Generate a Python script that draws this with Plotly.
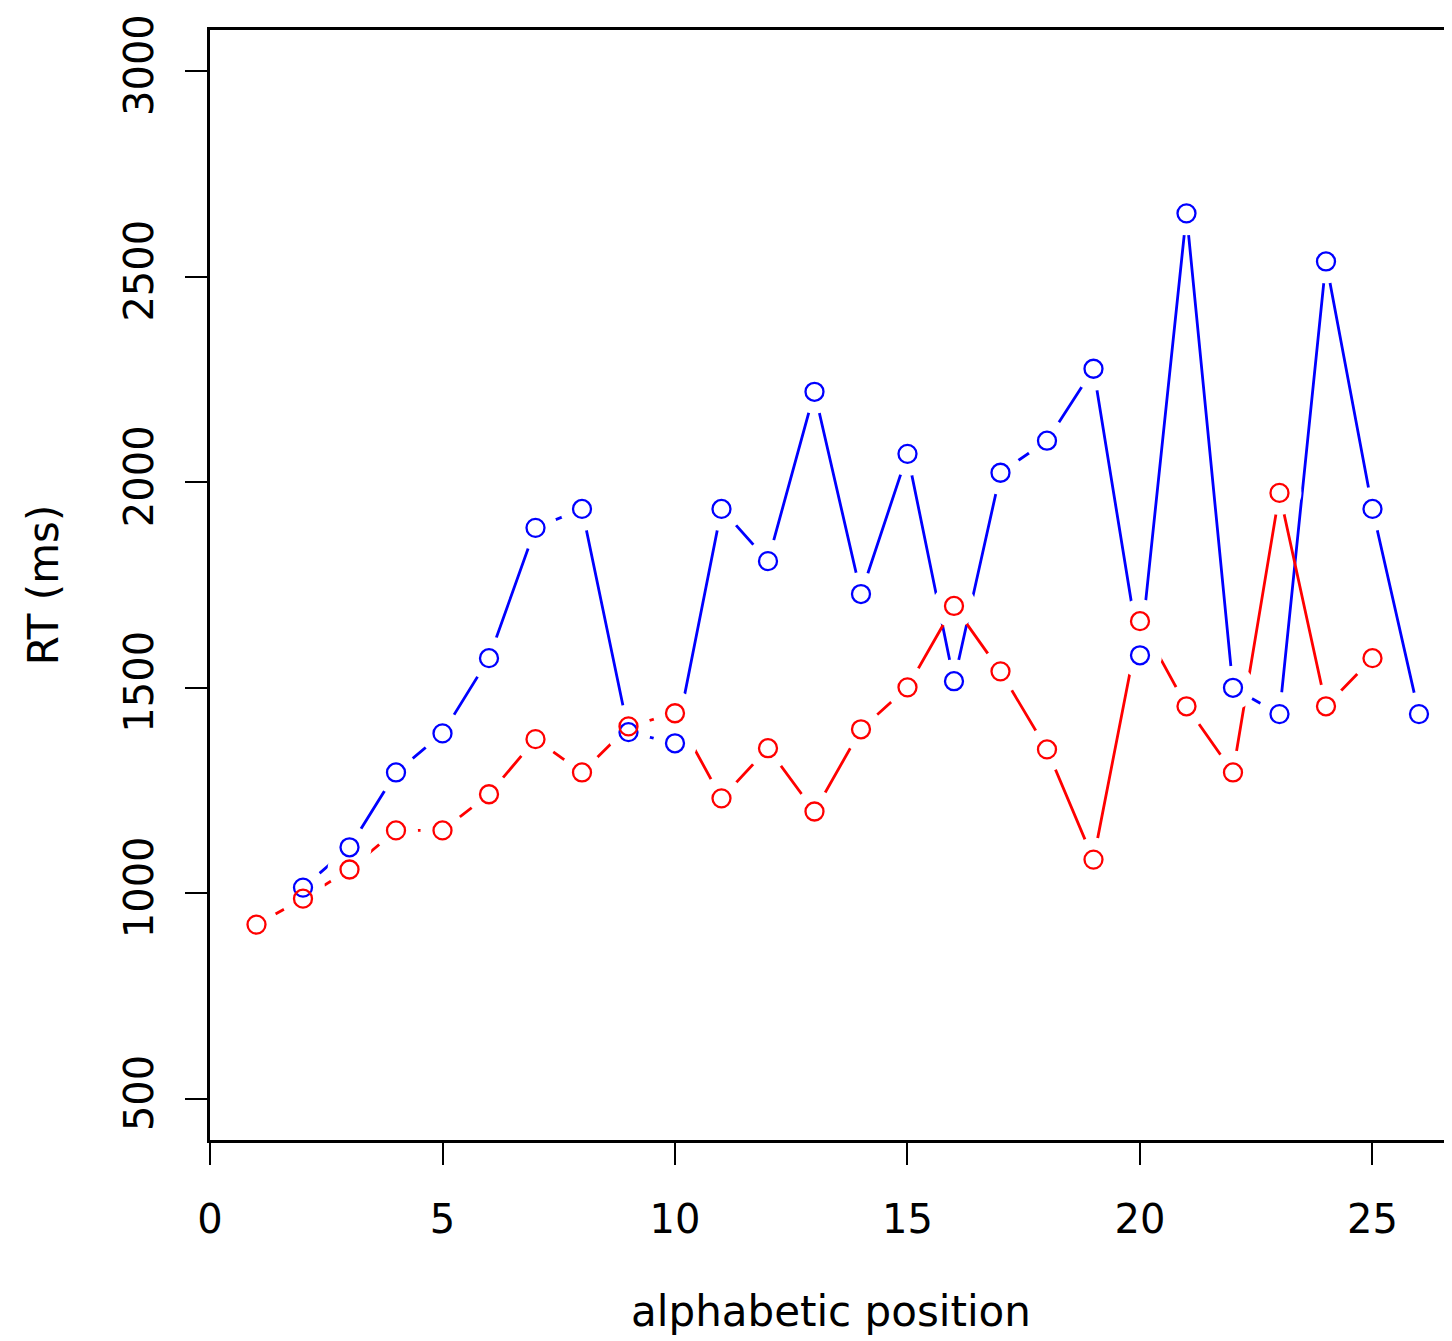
import plotly.graph_objects as go

# Data
red_x = list(range(1, 26))
red_y = [924, 987, 1058, 1153, 1153, 1241, 1375, 1294, 1406, 1438,
         1231, 1353, 1199, 1399, 1501, 1699, 1540, 1350, 1082, 1662,
         1455, 1294, 1974, 1455, 1572]

blue_x = list(range(2, 27))
blue_y = [1014, 1112, 1294, 1389, 1572, 1889, 1935, 1392, 1365, 1935,
          1808, 2220, 1728, 2069, 1516, 2023, 2101, 2276, 1579, 2654,
          1500, 1436, 2537, 1935, 1436]

x_ticks = [0, 5, 10, 15, 20, 25]
y_ticks = [500, 1000, 1500, 2000, 2500, 3000]

FONT = "DejaVu Sans"
fig = go.Figure()

series = [(blue_x, blue_y, "rgb(0,0,255)"), (red_x, red_y, "rgb(255,0,0)")]

# connecting lines
for xs, ys, c in series:
    fig.add_trace(go.Scatter(x=xs, y=ys, mode="lines",
                             line=dict(color=c, width=2.8),
                             showlegend=False, hoverinfo="skip"))
# white masks to create R type="b" gaps
for xs, ys, c in series:
    fig.add_trace(go.Scatter(x=xs, y=ys, mode="markers",
                             marker=dict(symbol="circle", size=44, color="white",
                                         line=dict(width=0)),
                             showlegend=False, hoverinfo="skip"))
# open circle markers
for xs, ys, c in series:
    fig.add_trace(go.Scatter(x=xs, y=ys, mode="markers",
                             marker=dict(symbol="circle-open", size=18, color=c,
                                         line=dict(width=2.3, color=c)),
                             showlegend=False))

fig.update_layout(
    width=1444, height=1333,
    margin=dict(l=202, r=0, t=22, b=201),
    plot_bgcolor="white", paper_bgcolor="white",
    font=dict(family=FONT, color="black", size=40),
)
fig.update_xaxes(
    range=[0, 26.71], tickvals=x_ticks, ticktext=[str(v) for v in x_ticks],
    showgrid=False, zeroline=False,
    showline=True, linecolor="black", linewidth=2.5, mirror=True,
    ticks="outside", ticklen=22, tickwidth=2, tickcolor="black",
    ticklabelstandoff=20,
    tickfont=dict(family=FONT, size=40, color="black"),
    title=dict(text="alphabetic position", standoff=56,
               font=dict(family=FONT, size=42, color="black")),
)
fig.update_yaxes(
    range=[400, 3100], tickvals=y_ticks, ticktext=[str(v) for v in y_ticks],
    showgrid=False, zeroline=False,
    showline=True, linecolor="black", linewidth=2.5,
    ticks="outside", ticklen=22, tickwidth=2, tickcolor="black",
    tickangle=-90, ticklabelstandoff=16,
    tickfont=dict(family=FONT, size=40, color="black"),
    title=dict(text="RT (ms)", standoff=45,
               font=dict(family=FONT, size=42, color="black")),
)

fig.write_html("out.html")
